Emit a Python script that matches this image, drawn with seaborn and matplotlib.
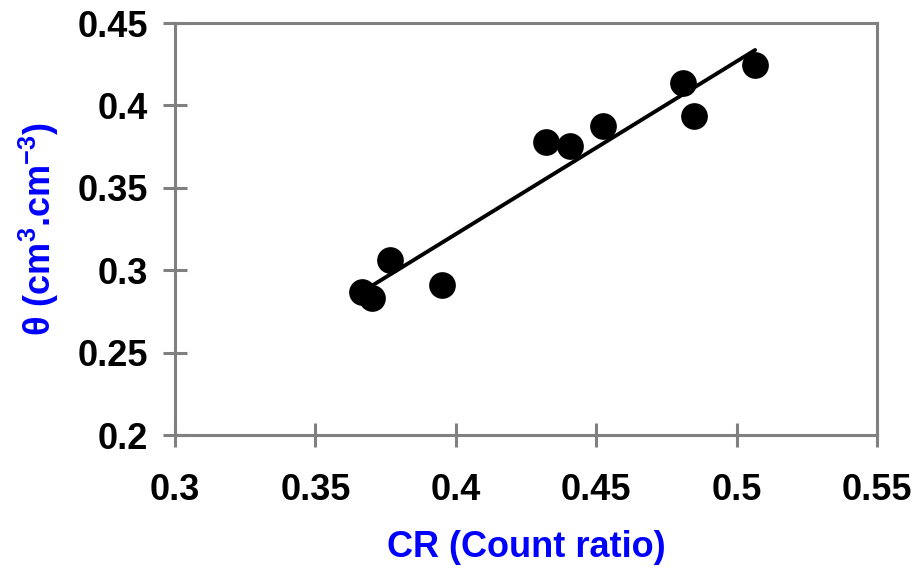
import matplotlib
matplotlib.use("Agg")
import matplotlib.pyplot as plt
import numpy as np
import pandas as pd
import seaborn as sns

# values
count_ratio = [0.3666, 0.3702, 0.3766, 0.3951, 0.4321, 0.4407, 0.4524, 0.4809, 0.4848, 0.5066]
theta = [0.2868, 0.2831, 0.3062, 0.2910, 0.3778, 0.3754, 0.3875, 0.4136, 0.3936, 0.4245]
x_ticks = [0.3, 0.35, 0.4, 0.45, 0.5, 0.55]
y_ticks = [0.2, 0.25, 0.3, 0.35, 0.4, 0.45]

df = pd.DataFrame({"CR": count_ratio, "theta": theta})

sns.set_style("white")
plt.rcParams["font.family"] = ["Liberation Sans", "DejaVu Sans"]
plt.rcParams["font.weight"] = "bold"
plt.rcParams["mathtext.fontset"] = "custom"
plt.rcParams["mathtext.rm"] = "Liberation Sans:bold"
plt.rcParams["mathtext.default"] = "rm"

fig = plt.figure(figsize=(9.18, 5.78), dpi=100)
ax = fig.add_axes([0.1906, 0.2474, 0.7647, 0.7128])

sns.regplot(data=df, x="CR", y="theta", ax=ax, ci=None, truncate=True,
            scatter_kws={"s": 370, "color": "black", "alpha": 1, "linewidths": 0},
            line_kws={"color": "black", "lw": 2.8})

ax.set_xlim(0.3, 0.55)
ax.set_ylim(0.2, 0.45)
ax.set_xticks(x_ticks)
ax.set_yticks(y_ticks)
ax.set_xticklabels([f"{v:g}" for v in x_ticks])
ax.set_yticklabels([f"{v:g}" for v in y_ticks])

for s in ax.spines.values():
    s.set_color("#808080")
    s.set_linewidth(2.2)
ax.tick_params(axis="both", which="major", bottom=True, left=True,
               direction="inout", length=17, width=2.2,
               color="#808080", labelsize=26, labelcolor="black")
ax.tick_params(axis="x", pad=19)
ax.tick_params(axis="y", pad=11)

ax.set_xlabel("CR (Count ratio)", color="blue", fontsize=26, fontweight="bold", labelpad=16)
ax.set_ylabel(r"θ (cm$^{3}$.cm$^{-3}$)", color="blue", fontsize=26, fontweight="bold", labelpad=12)

fig.savefig("out.png", dpi=100)
